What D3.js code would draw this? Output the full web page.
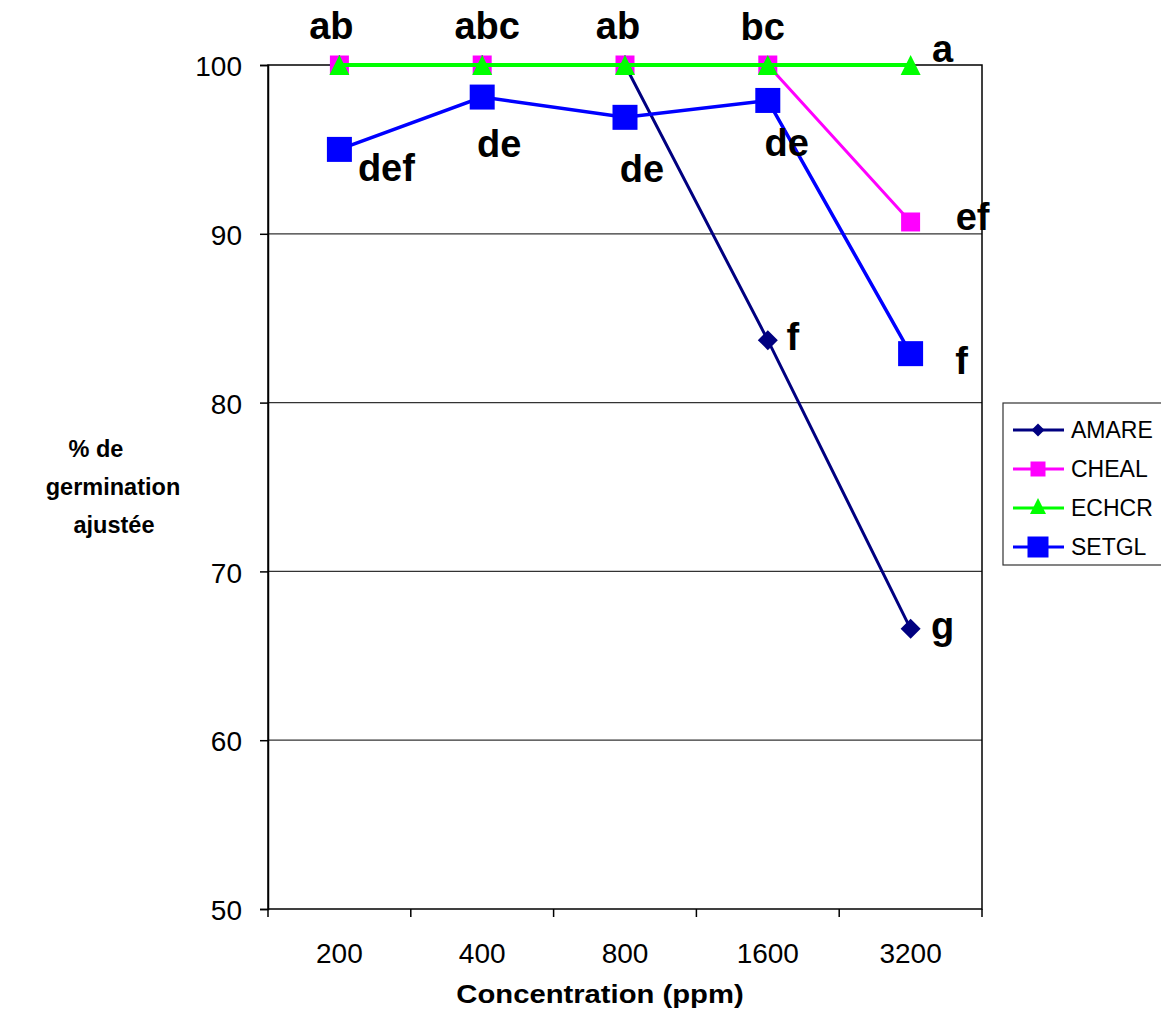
<!DOCTYPE html>
<html>
<head>
<meta charset="utf-8">
<script src="https://cdn.jsdelivr.net/npm/d3@7"></script>
<style>
  body { margin: 0; background: #fff; }
  svg { display: block; font-family: "Liberation Sans", Arial, sans-serif; }
</style>
</head>
<body>
<svg id="chart" width="1161" height="1018"></svg>
<script>
// concentrations and adjusted germination per species
const concentrations = ['200', '400', '800', '1600', '3200'];
const amare = [100, 100, 100, 83.7, 66.6];
const cheal = [100, 100, 100, 100, 90.7];
const echcr = [100, 100, 100, 100, 100];
const setgl = [95.0, 98.1, 96.9, 97.9, 82.9];
const yTicks = [50, 60, 70, 80, 90, 100];

// letters from the mean comparison (null = no letter shown)
const amareLetters = [null, null, null, 'f', 'g'];
const chealLetters = [null, null, null, null, 'ef'];
const echcrLetters = ['ab', 'abc', 'ab', 'bc', 'a'];
const setglLetters = ['def', 'de', 'de', 'de', 'f'];

const series = [
  { name: 'AMARE', values: amare, letters: amareLetters, color: '#000080', symbol: 'diamond', size: 20, legendSize: 13, width: 3 },
  { name: 'CHEAL', values: cheal, letters: chealLetters, color: '#ff00ff', symbol: 'square', size: 19, legendSize: 15, width: 3 },
  { name: 'ECHCR', values: echcr, letters: echcrLetters, color: '#00ff00', symbol: 'triangle', size: 20, legendSize: 16, width: 4 },
  { name: 'SETGL', values: setgl, letters: setglLetters, color: '#0000ff', symbol: 'square', size: 25, legendSize: 21, width: 3.5 }
];

// where each letter sits relative to its point [dx of centre, dy of baseline]
const letterOffsets = {
  AMARE: [null, null, null, [25, 10], [32, 10]],
  CHEAL: [null, null, null, null, [62, 8]],
  ECHCR: [[-8, -26], [5, -26], [-7, -26], [-5, -25], [32, -3]],
  SETGL: [[47, 32], [17, 60], [17, 65], [19, 56], [51, 20]]
};

const svg = d3.select('#chart');
const plotLeft = 268, plotRight = 982, plotTop = 65, plotBottom = 909;

const x = d3.scaleBand().domain(concentrations).range([plotLeft, plotRight]);
const y = d3.scaleLinear().domain([50, 100]).range([plotBottom, plotTop]);

// grid lines
svg.append('g')
  .selectAll('line')
  .data(yTicks.filter(d => d > 50 && d < 100))
  .join('line')
  .attr('x1', plotLeft).attr('x2', plotRight)
  .attr('y1', d => y(d)).attr('y2', d => y(d))
  .attr('stroke', '#333').attr('stroke-width', 1.3);

// plot area frame
svg.append('rect')
  .attr('x', plotLeft).attr('y', plotTop)
  .attr('width', plotRight - plotLeft).attr('height', plotBottom - plotTop)
  .attr('fill', 'none').attr('stroke', '#000').attr('stroke-width', 1.5);

// y axis
const yAxis = svg.append('g')
  .attr('transform', `translate(${plotLeft},0)`)
  .call(d3.axisLeft(y).tickValues(yTicks).tickSize(8).tickPadding(18));
yAxis.select('.domain').attr('stroke-width', 1.5);
yAxis.selectAll('line').attr('stroke-width', 1.5);
yAxis.selectAll('text').attr('font-size', 28).attr('fill', '#000').attr('dy', '0.38em')
  .attr('font-family', '"Liberation Sans", Arial, sans-serif');

// x axis: ticks between categories, labels centred
const xAxis = svg.append('g').attr('transform', `translate(0,${plotBottom})`);
const edges = concentrations.map(c => x(c)).concat([plotRight]);
xAxis.selectAll('line')
  .data(edges)
  .join('line')
  .attr('x1', d => d).attr('x2', d => d)
  .attr('y1', 0).attr('y2', 8)
  .attr('stroke', '#000').attr('stroke-width', 1.5);
xAxis.selectAll('text')
  .data(concentrations)
  .join('text')
  .attr('x', d => x(d) + x.bandwidth() / 2)
  .attr('y', 54)
  .attr('text-anchor', 'middle')
  .attr('font-size', 28)
  .text(d => d);

// axis titles
svg.append('text')
  .attr('transform', 'translate(600,1003) scale(1.17,1)')
  .attr('text-anchor', 'middle')
  .attr('font-size', 25).attr('font-weight', 'bold')
  .text('Concentration (ppm)');

svg.append('text')
  .attr('text-anchor', 'middle')
  .attr('font-size', 23.5).attr('font-weight', 'bold')
  .selectAll('tspan')
  .data([['% de', 96], ['germination', 113], ['ajustée', 114]])
  .join('tspan')
  .attr('x', d => d[1])
  .attr('y', (d, i) => 457 + i * 38)
  .text(d => d[0]);

const cx = i => x(concentrations[i]) + x.bandwidth() / 2;

const symbolPath = (symbol, size) => {
  const h = size / 2;
  if (symbol === 'diamond') return `M0,${-h}L${h},0L0,${h}L${-h},0Z`;
  if (symbol === 'triangle') return `M0,${-h}L${h},${h}L${-h},${h}Z`;
  return `M${-h},${-h}H${h}V${h}H${-h}Z`;
};

const line = d3.line().x((d, i) => cx(i)).y(d => y(d));

series.forEach(s => {
  const g = svg.append('g');
  g.append('path')
    .attr('d', line(s.values))
    .attr('fill', 'none')
    .attr('stroke', s.color)
    .attr('stroke-width', s.width);
  g.selectAll('path.pt')
    .data(s.values)
    .join('path')
    .attr('class', 'pt')
    .attr('transform', (d, i) => `translate(${cx(i)},${y(d)})`)
    .attr('d', symbolPath(s.symbol, s.size))
    .attr('fill', s.color);
});

// letters
series.forEach(s => {
  s.letters.forEach((txt, i) => {
    if (!txt) return;
    const off = letterOffsets[s.name][i];
    svg.append('text')
      .attr('x', cx(i) + off[0])
      .attr('y', y(s.values[i]) + off[1])
      .attr('text-anchor', 'middle')
      .attr('font-size', 38)
      .attr('font-weight', 'bold')
      .text(txt);
  });
});

// legend
const legend = svg.append('g').attr('transform', 'translate(1003,403)');
legend.append('rect')
  .attr('width', 165).attr('height', 162)
  .attr('fill', '#fff').attr('stroke', '#333').attr('stroke-width', 1.2);
series.forEach((s, i) => {
  const row = legend.append('g').attr('transform', `translate(0,${27 + i * 39})`);
  row.append('line')
    .attr('x1', 10).attr('x2', 61)
    .attr('stroke', s.color).attr('stroke-width', 3);
  row.append('path')
    .attr('transform', `translate(35,${s.symbol === 'triangle' ? -2 : 0})`)
    .attr('d', symbolPath(s.symbol, s.legendSize))
    .attr('fill', s.color);
  row.append('text')
    .attr('x', 68).attr('y', 8)
    .attr('font-size', 23)
    .text(s.name);
});
</script>
</body>
</html>
